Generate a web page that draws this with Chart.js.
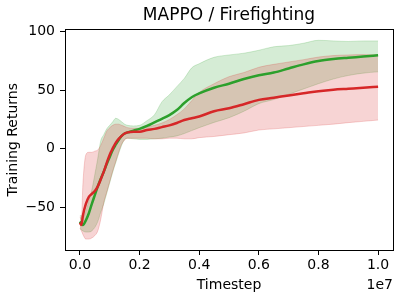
<!DOCTYPE html>
<html>
<head>
<meta charset="utf-8">
<script src="https://cdn.jsdelivr.net/npm/chart.js@4.4.1/dist/chart.umd.min.js"></script>
<style>
  html, body { margin: 0; padding: 0; background: #fff; }
  #chart { display: block; }
</style>
</head>
<body>
<canvas id="chart" width="400" height="300"></canvas>
<script>
// MAPPO / Firefighting - training returns, mean line + spread band per run group

// timesteps, in millions
const steps = [0, 0.05, 0.1, 0.2, 0.3, 0.4, 0.5, 0.6, 0.7, 0.8, 0.9, 1.0, 1.1, 1.2, 1.3, 1.4, 1.5, 1.6, 1.8, 2.0,
  2.25, 2.5, 2.75, 3.0, 3.25, 3.5, 3.75, 4.0, 4.5, 5.0, 5.5, 6.0, 6.5, 7.0, 7.5, 8.0, 8.5, 9.0, 9.5, 10.0];

// green run
const greenMean = [-62, -64, -65, -61, -55, -47, -39.5, -32, -25.5, -19.5, -13, -7, -1, 3.5, 7.5, 11, 13, 14, 15.5, 17,
  19.5, 22.5, 25.5, 28.7, 33, 39, 44, 47.2, 52, 55.5, 59.5, 62.7, 65, 68.5, 72, 74.8, 76.5, 77.6, 78.6, 79.7];
const greenHi = [-57, -57, -59, -53, -44, -35, -22, -8, 7, 12, 17, 20, 23, 26, 25, 23, 21, 20, 19.5, 20,
  24, 29, 40, 46, 53, 60, 69, 72.5, 78, 80, 81.5, 84, 87, 88, 90, 92.5, 92, 91.5, 92, 92];
const greenLo = [-68, -69, -70, -71, -71, -70, -67, -62, -54, -47, -38, -29, -20, -12, -4, 3, 8, 9, 8.5, 8,
  8, 8.5, 9, 10, 11, 13, 15.5, 18, 22.5, 26.5, 32, 38.5, 42, 46.5, 51, 55.5, 59.5, 62.5, 64.5, 65.6];

// red run
const redMean = [-63, -65, -57, -47, -41, -38.5, -36, -32, -26, -19.5, -12, -5, 0.3, 5, 8.5, 11, 13, 14, 14.5, 14.5,
  16, 17, 18.5, 20, 22, 24.5, 26, 27.5, 32, 34.5, 38, 41.7, 43.5, 45.5, 47.3, 49.1, 50.4, 51.2, 52, 52.9];
const redHi = [-58, -60, -30, -5, -3, -3, -2, -1, 3, 9, 15, 18, 20, 21, 21, 20, 19, 18, 17.5, 17.5,
  18.5, 20, 22, 25, 29, 34, 41, 48, 55.5, 61.5, 65, 69.5, 72, 74, 76, 78.2, 79.5, 80, 80.3, 80];
const redLo = [-68, -70, -73, -77, -77, -76, -74, -70, -60, -46, -37, -28, -19, -11, -3, 4, 7.5, 9, 9, 9,
  9, 8.5, 8.5, 9, 9, 8.5, 8.5, 9.5, 10.5, 12, 13.5, 16, 17, 18, 19, 20, 21, 22.3, 23.4, 24.5];

const xTicks = [0, 0.2, 0.4, 0.6, 0.8, 1.0]; // units of 1e7
const yTicks = [-50, 0, 50, 100];

const GREEN = '#2ca02c';
const RED = '#d62728';
const GREEN_BAND = 'rgba(44, 160, 44, 0.2)';
const RED_BAND = 'rgba(214, 39, 40, 0.2)';

const toPoints = ys => ys.map((y, i) => ({ x: steps[i] * 1e6, y: y }));

Chart.defaults.font.family = "'DejaVu Sans', sans-serif";
Chart.defaults.color = '#000';

// matplotlib style box around the axes
const framePlugin = {
  id: 'frame',
  afterDraw(chart) {
    const { ctx, chartArea } = chart;
    ctx.save();
    ctx.strokeStyle = '#000';
    ctx.lineWidth = 1;
    ctx.strokeRect(Math.round(chartArea.left) + 0.5, Math.round(chartArea.top) + 0.5,
      Math.round(chartArea.right - chartArea.left), Math.round(chartArea.bottom - chartArea.top));
    ctx.restore();
  }
};

// the "1e7" offset text under the right end of the x axis
const offsetLabel = {
  id: 'offsetLabel',
  afterDraw(chart) {
    const { ctx, chartArea } = chart;
    ctx.save();
    ctx.font = "14px 'DejaVu Sans', sans-serif";
    ctx.fillStyle = '#000';
    ctx.textAlign = 'right';
    ctx.textBaseline = 'middle';
    ctx.fillText('1e7', chartArea.right, 285);
    ctx.restore();
  }
};

const bandStyle = color => ({
  borderColor: color,
  backgroundColor: color,
  borderWidth: 1,
  pointRadius: 0,
  cubicInterpolationMode: 'monotone'
});

const lineStyle = color => ({
  borderColor: color,
  backgroundColor: color,
  borderWidth: 2.5,
  pointRadius: 0,
  fill: false,
  cubicInterpolationMode: 'monotone'
});

new Chart(document.getElementById('chart').getContext('2d'), {
  type: 'line',
  data: {
    datasets: [
      { label: 'red', data: toPoints(redMean), ...lineStyle(RED) },
      { label: 'green', data: toPoints(greenMean), ...lineStyle(GREEN) },
      { label: 'red hi', data: toPoints(redHi), ...bandStyle(RED_BAND), fill: '+1' },
      { label: 'red lo', data: toPoints(redLo), ...bandStyle(RED_BAND), fill: false },
      { label: 'green hi', data: toPoints(greenHi), ...bandStyle(GREEN_BAND), fill: '+1' },
      { label: 'green lo', data: toPoints(greenLo), ...bandStyle(GREEN_BAND), fill: false }
    ]
  },
  options: {
    responsive: false,
    animation: false,
    devicePixelRatio: 1,
    layout: { padding: { left: 0, right: 7, top: 0, bottom: 0 } },
    plugins: {
      legend: { display: false },
      tooltip: { enabled: false },
      title: {
        display: true,
        fullSize: false,
        text: 'MAPPO / Firefighting',
        color: '#000',
        font: { size: 17, weight: 'normal' },
        padding: { top: 5, bottom: 4 }
      }
    },
    scales: {
      x: {
        type: 'linear',
        min: -0.05e7,
        max: 1.05e7,
        afterBuildTicks: scale => { scale.ticks = xTicks.map(v => ({ value: v * 1e7 })); },
        afterFit: scale => { scale.height = 50; },
        ticks: {
          font: { size: 14 },
          color: '#000',
          padding: 2,
          maxRotation: 0,
          callback: v => (v / 1e7).toFixed(1)
        },
        grid: { drawOnChartArea: false, drawTicks: true, tickLength: 5, color: '#000' },
        border: { display: true, color: '#000', width: 1 },
        title: {
          display: true,
          text: 'Timestep',
          font: { size: 14 },
          color: '#000',
          padding: { top: 0, bottom: 6 }
        }
      },
      y: {
        type: 'linear',
        min: -86.3,
        max: 101.8,
        afterBuildTicks: scale => { scale.ticks = yTicks.map(v => ({ value: v })); },
        afterFit: scale => { scale.width = 65; },
        ticks: {
          font: { size: 14 },
          color: '#000',
          padding: 5,
          callback: v => String(v).replace('-', '\u2212')
        },
        grid: { drawOnChartArea: false, drawTicks: true, tickLength: 5, color: '#000' },
        border: { display: true, color: '#000', width: 1 },
        title: {
          display: true,
          text: 'Training Returns',
          font: { size: 14 },
          color: '#000',
          padding: { top: 5, bottom: 0 }
        }
      }
    }
  },
  plugins: [framePlugin, offsetLabel]
});
</script>
</body>
</html>
